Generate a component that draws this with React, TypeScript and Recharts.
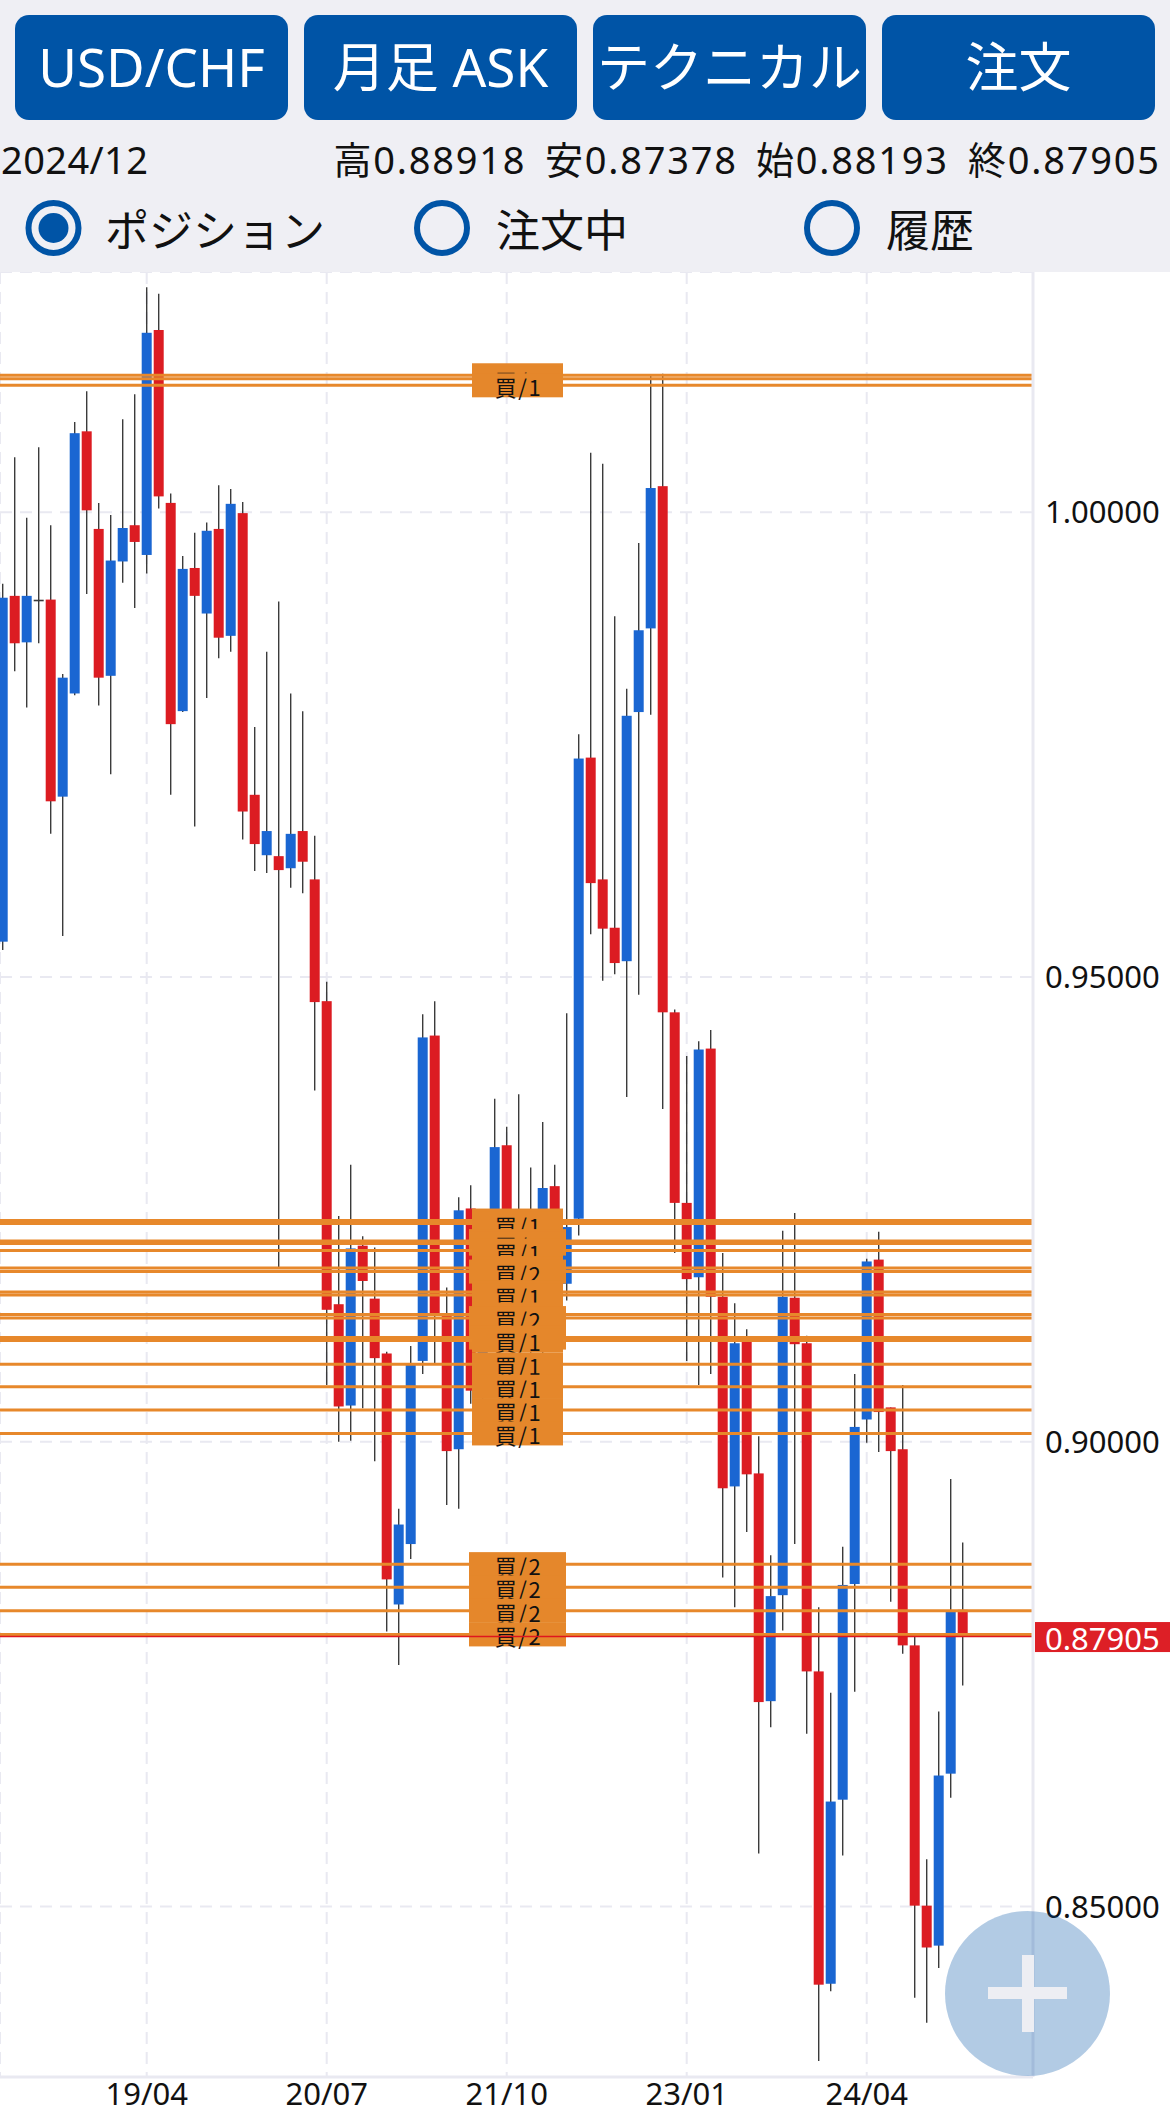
import React from 'react';
import { ComposedChart, Bar, XAxis, YAxis, CartesianGrid, ReferenceLine } from 'recharts';

// Monthly USD/CHF candles, 2018/04 .. 2024/12 (index 0 = 2018/04)
const opens = [
  0.9538, 0.9910, 0.9860, 0.9905, 0.9906, 0.9694, 0.9805, 1.0087, 0.9982, 0.9824,
  0.9947, 0.9986, 0.9954, 1.0196, 1.0010, 0.9786, 0.9940, 0.9891, 0.9982, 0.9867,
  0.9999, 0.9696, 0.9631, 0.9630, 0.9617, 0.9657, 0.9605, 0.9474, 0.9148, 0.9039,
  0.9211, 0.9154, 0.9095, 0.8825, 0.8890, 0.9087, 0.9437, 0.9137, 0.8992, 0.9251,
  0.9055, 0.9150, 0.9319, 0.9150, 0.9187, 0.9120, 0.9275, 0.9170, 0.9240, 0.9736,
  0.9605, 0.9553, 0.9517, 0.9785, 0.9875, 1.0028, 0.9462, 0.9257, 0.9177, 0.9423,
  0.9156, 0.8952, 0.9108, 0.8966, 0.8721, 0.8835, 0.9155, 0.9106, 0.8753, 0.8417,
  0.8615, 0.8847, 0.9024, 0.9196, 0.9037, 0.8992, 0.8781, 0.8501, 0.8458, 0.8643,
  0.88193,
];
const highs = [
  0.9923, 1.0059, 0.9994, 1.0070, 0.9986, 0.9826, 1.0097, 1.0130, 1.0010, 0.9997,
  1.0100, 1.0127, 1.0242, 1.0235, 1.0020, 0.9953, 0.9978, 0.9989, 1.0029, 1.0025,
  1.0011, 0.9769, 0.9850, 0.9904, 0.9805, 0.9786, 0.9652, 0.9495, 0.9243, 0.9298,
  0.9221, 0.9209, 0.9097, 0.8928, 0.9103, 0.9460, 0.9474, 0.9166, 0.9263, 0.9276,
  0.9200, 0.9369, 0.9339, 0.9374, 0.9295, 0.9344, 0.9298, 0.9461, 0.9761, 1.0064,
  1.0052, 0.9888, 0.9810, 0.9967, 1.0148, 1.0149, 0.9465, 0.9415, 0.9431, 0.9443,
  0.9203, 0.9149, 0.9121, 0.9006, 0.8878, 0.9227, 0.9246, 0.9114, 0.8822, 0.8730,
  0.8887, 0.9073, 0.9197, 0.9226, 0.9037, 0.9061, 0.8792, 0.8551, 0.8710, 0.8960,
  0.88918,
];
const lows = [
  0.9529, 0.9829, 0.9790, 0.9859, 0.9654, 0.9544, 0.9803, 0.9912, 0.9792, 0.9718,
  0.9924, 0.9897, 0.9934, 1.0004, 0.9696, 0.9785, 0.9662, 0.9800, 0.9843, 0.9850,
  0.9648, 0.9614, 0.9612, 0.9188, 0.9596, 0.9590, 0.9378, 0.9061, 0.9000, 0.9001,
  0.9036, 0.8979, 0.8796, 0.8760, 0.8874, 0.9073, 0.9084, 0.8932, 0.8928, 0.9041,
  0.9020, 0.9130, 0.9110, 0.9135, 0.9090, 0.9090, 0.9150, 0.9152, 0.9222, 0.9546,
  0.9496, 0.9503, 0.9371, 0.9481, 0.9782, 0.9358, 0.9203, 0.9087, 0.9061, 0.9073,
  0.8854, 0.8822, 0.8903, 0.8557, 0.8693, 0.8797, 0.8890, 0.8686, 0.8334, 0.8409,
  0.8555, 0.8731, 0.8999, 0.8989, 0.8828, 0.8772, 0.8402, 0.8375, 0.8434, 0.8617,
  0.87378,
];
const closes = [
  0.9908, 0.9859, 0.9910, 0.9905, 0.9689, 0.9822, 1.0085, 1.0002, 0.9822, 0.9948,
  0.9983, 0.9968, 1.0193, 1.0017, 0.9772, 0.9939, 0.9910, 0.9980, 0.9865, 1.0009,
  0.9678, 0.9643, 0.9657, 0.9615, 0.9654, 0.9624, 0.9473, 0.9142, 0.9038, 0.9208,
  0.9173, 0.9090, 0.8852, 0.8911, 0.9083, 0.9435, 0.9138, 0.8990, 0.9249, 0.9055,
  0.9150, 0.9317, 0.9150, 0.9187, 0.9120, 0.9273, 0.9180, 0.9231, 0.9735, 0.9601,
  0.9552, 0.9515, 0.9781, 0.9873, 1.0026, 0.9462, 0.9257, 0.9175, 0.9422, 0.9156,
  0.8950, 0.9106, 0.8965, 0.8720, 0.8834, 0.9156, 0.9105, 0.8753, 0.8416, 0.8613,
  0.8846, 0.9016, 0.9194, 0.9032, 0.8990, 0.8781, 0.8501, 0.8456, 0.8641, 0.8817,
  0.87905,
];

const xTickIndex = [12, 27, 42, 57, 72];
const xTickLabels = ['19/04', '20/07', '21/10', '23/01', '24/04'];
const yTicks = [0.85, 0.9, 0.95, 1.0];

const positionPrices = [
  1.01473, 1.01436, 1.01365,
  0.9238, 0.92348, 0.92159, 0.92132, 0.92057, 0.91869, 0.91831, 0.91611, 0.91578,
  0.91369, 0.91331, 0.91121, 0.91091, 0.90833, 0.90592, 0.90341, 0.9009,
  0.88684, 0.88434, 0.88182, 0.87928,
];
const positionLabels = [
  '買/1', '買/1', '買/1',
  '買/1', '買/1', '買/2', '買/2', '買/1', '買/1', '買/2', '買/1', '買/1',
  '買/1', '買/2', '買/2', '買/1', '買/1', '買/1', '買/1', '買/1',
  '買/2', '買/2', '買/2', '買/2',
];
const lastPrice = 0.87905;

const headerButtons = ['USD/CHF', '月足 ASK', 'テクニカル', '注文'];
const infoDate = '2024/12';
const infoItems = ['高0.88918', '安0.87378', '始0.88193', '終0.87905'];
const radioItems = ['ポジション', '注文中', '履歴'];

const data = opens.map((o, i) => ({
  idx: i,
  o,
  h: highs[i],
  l: lows[i],
  c: closes[i],
  range: [lows[i], highs[i]],
}));

const BLUE = '#1a66d2';
const RED = '#dc1c22';
const WICK = '#3b3b3b';
const ORANGE = '#e7882b';
const BTN = '#0054a6';
const GRID = '#e9e9f1';

const Candle = (props: any) => {
  const { x, y, width, height, payload } = props;
  if (x == null || y == null || !payload) return null;
  const top = Math.min(y, y + height);
  const bot = Math.max(y, y + height);
  const span = payload.h - payload.l;
  const toY = (v: number) => (span === 0 ? top : top + ((payload.h - v) / span) * (bot - top));
  const cx = x + width / 2;
  const yO = toY(payload.o);
  const yC = toY(payload.c);
  const up = payload.c > payload.o;
  const bTop = Math.min(yO, yC);
  const bH = Math.max(Math.abs(yO - yC), 1.5);
  return (
    <g>
      <line x1={cx} x2={cx} y1={top} y2={bot} stroke={WICK} strokeWidth={1.4} />
      {payload.o === payload.c ? (
        <line x1={x} x2={x + width} y1={yO} y2={yO} stroke={WICK} strokeWidth={1.6} />
      ) : (
        <rect x={x} y={bTop} width={width} height={bH} fill={up ? BLUE : RED} />
      )}
    </g>
  );
};

const PosLabel = (props: any) => {
  const vb = props.viewBox || {};
  const y = vb.y ?? 0;
  const cx = (vb.x ?? 0) + 517.5;
  const w = String(props.text).endsWith('2') ? 97 : 91;
  return (
    <g>
      <rect x={cx - w / 2} y={y - 12} width={w} height={24} fill="#e5872b" />
      <text
        x={cx + 1}
        y={y + 1}
        textAnchor="middle"
        dominantBaseline="central"
        fontSize={22}
        letterSpacing={1.5}
        fontFamily="'Noto Sans CJK JP', 'Noto Sans'"
        fill="#111"
      >
        {props.text}
      </text>
    </g>
  );
};

const PriceLabel = (props: any) => {
  const vb = props.viewBox || {};
  const y = vb.y ?? 0;
  const right = (vb.x ?? 0) + (vb.width ?? 0);
  return (
    <g>
      <rect x={right + 2} y={y - 14.5} width={140} height={30} fill="#dd1f26" />
      <text
        x={right + 12}
        y={y + 1}
        dominantBaseline="central"
        fontSize={31}
        fontFamily="'Noto Sans'"
        fill="#ffffff"
      >
        {props.text}
      </text>
    </g>
  );
};

const Header = () => (
  <svg width={1170} height={272} style={{ position: 'absolute', left: 0, top: 0, display: 'block' }}>
    <rect x={0} y={0} width={1170} height={272} fill="#efeff4" />
    {headerButtons.map((t, i) => {
      const bx = 15 + i * 289;
      return (
        <g key={t}>
          <rect x={bx} y={15} width={273} height={105} rx={14} fill={BTN} />
          <text
            x={bx + 136.5}
            y={86.5}
            textAnchor="middle"
            fontSize={53}
            fontFamily="'Noto Sans', 'Noto Sans CJK JP'"
            fill="#ffffff"
          >
            {t}
          </text>
        </g>
      );
    })}
    <text x={1} y={174} fontSize={38} fontFamily="'Noto Sans', 'Noto Sans CJK JP'" fill="#111" textLength={147} lengthAdjust="spacing">
      {infoDate}
    </text>
    {infoItems.map((t, i) => {
      const xs = [333.5, 545, 756, 968];
      return (
        <text
          key={t}
          x={xs[i]}
          y={174}
          fontSize={38}
          fontFamily="'Noto Sans', 'Noto Sans CJK JP'"
          fill="#111"
          textLength={191}
          lengthAdjust="spacing"
        >
          {t}
        </text>
      );
    })}
    {radioItems.map((t, i) => {
      const cxs = [53.5, 442, 832];
      const txs = [105, 496, 886];
      return (
        <g key={t}>
          <circle cx={cxs[i]} cy={228} r={25} fill="none" stroke={BTN} strokeWidth={6} />
          {i === 0 && <circle cx={cxs[i]} cy={228} r={15} fill={BTN} />}
          <text
            x={txs[i]}
            y={228}
            dominantBaseline="central"
            fontSize={44}
            fontFamily="'Noto Sans CJK JP', 'Noto Sans'"
            fill="#111"
          >
            {t}
          </text>
        </g>
      );
    })}
  </svg>
);

export default function App() {
  return (
    <div style={{ position: 'relative', width: 1170, height: 2116, background: '#ffffff', overflow: 'hidden' }}>
      <style>{'body{margin:0;}'}</style>
      <Header />
      <div style={{ position: 'absolute', left: 0, top: 272 }}>
        <ComposedChart width={1170} height={1844} data={data} margin={{ top: 0, right: 0, bottom: 0, left: 0 }}>
          <CartesianGrid stroke={GRID} strokeWidth={2} strokeDasharray="12 8" />
          <XAxis
            dataKey="idx"
            type="number"
            domain={[-0.225, 85.858]}
            allowDataOverflow
            ticks={xTickIndex}
            interval={0}
            tickFormatter={(v: number) => xTickLabels[xTickIndex.indexOf(v)] ?? ''}
            height={39}
            axisLine={{ stroke: GRID, strokeWidth: 3 }}
            tickLine={false}
            tickSize={0}
            tickMargin={6}
            tick={{ fill: '#111', fontSize: 31, fontFamily: 'Noto Sans' }}
          />
          <YAxis
            orientation="right"
            type="number"
            domain={[0.831669, 1.025839]}
            allowDataOverflow
            ticks={yTicks}
            interval={0}
            tickFormatter={(v: number) => v.toFixed(5)}
            width={137}
            axisLine={{ stroke: GRID, strokeWidth: 3 }}
            tickLine={false}
            tickSize={0}
            tickMargin={12}
            tick={{ fill: '#111', fontSize: 31, fontFamily: 'Noto Sans' }}
          />
          <Bar dataKey="range" barSize={10} shape={<Candle />} isAnimationActive={false} />
          {positionPrices.map((p, i) => (
            <ReferenceLine
              key={'pos' + i}
              y={p}
              stroke={ORANGE}
              strokeWidth={3}
              label={<PosLabel text={positionLabels[i]} />}
            />
          ))}
          <ReferenceLine
            y={lastPrice}
            stroke="#e0161e"
            strokeWidth={1.6}
            label={<PriceLabel text={lastPrice.toFixed(5)} />}
          />
        </ComposedChart>
      </div>
      <div
        style={{
          position: 'absolute',
          left: 1027.5 - 82.5,
          top: 1993 - 82.5,
          width: 165,
          height: 165,
          borderRadius: '50%',
          background: 'rgba(0,84,166,0.3)',
        }}
      >
        <div style={{ position: 'absolute', left: 43, top: 76.5, width: 79, height: 12, background: '#edeef3' }} />
        <div style={{ position: 'absolute', left: 76.5, top: 44, width: 12, height: 77, background: '#edeef3' }} />
      </div>
    </div>
  );
}
